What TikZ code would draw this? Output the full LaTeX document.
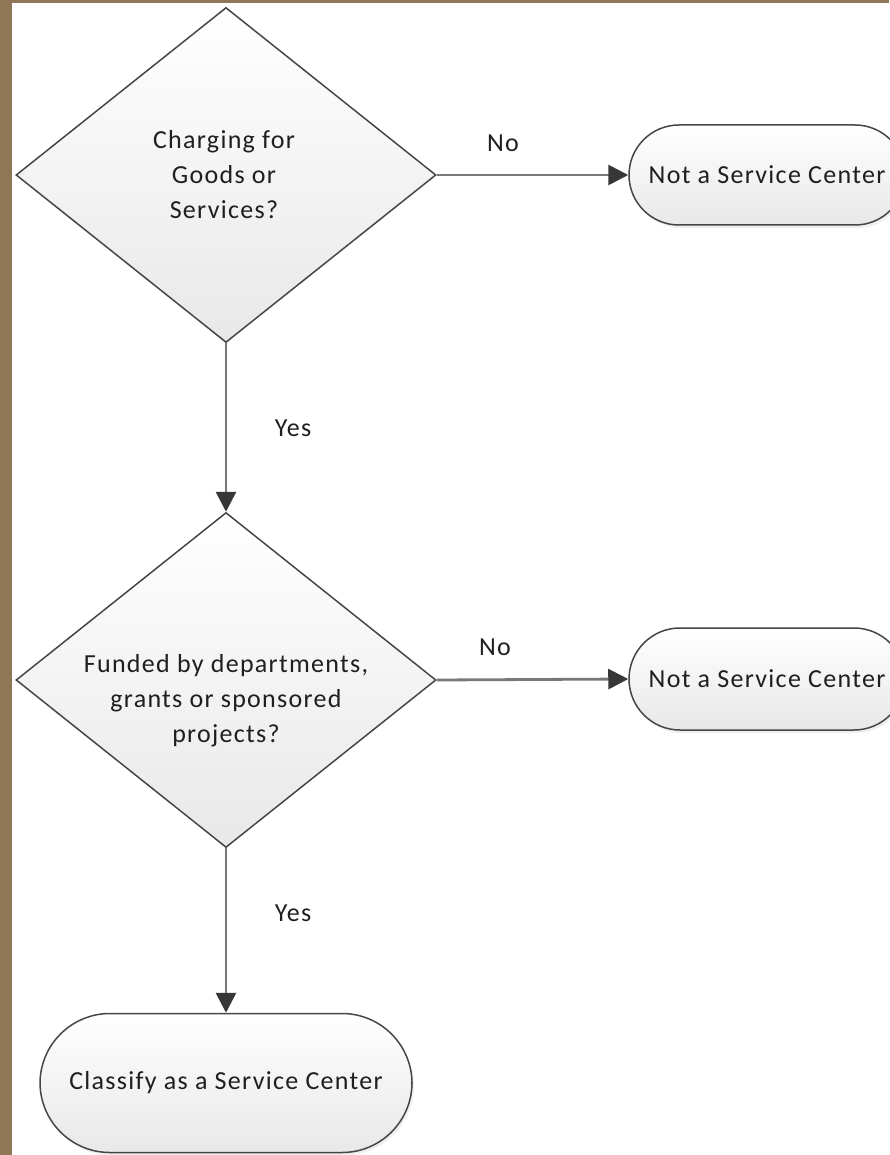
\documentclass[tikz,border=0pt]{standalone}
\usepackage{fontspec}
\setmainfont[LetterSpace=5]{Carlito}
\usetikzlibrary{shapes.geometric,arrows.meta,shadows}
\definecolor{frame}{RGB}{143,118,86}
\definecolor{edge}{RGB}{70,70,70}
\definecolor{conn}{RGB}{120,120,120}
\definecolor{tip}{RGB}{55,55,55}
\tikzset{
  every node/.style={font=\fontsize{26}{35}\selectfont, text=black!88},
  decision/.style={diamond, draw=edge, line width=1.5pt, top color=white, bottom color=black!9,
    minimum width=420pt, minimum height=335pt, inner sep=0pt, align=center},
  terminal/.style={rectangle, rounded corners=#1, draw=edge, line width=1.5pt, top color=white, bottom color=black!9,
    inner sep=0pt, align=center, drop shadow={opacity=0.12, shadow xshift=2pt, shadow yshift=-3pt}},
  conn/.style={draw=conn, line width=2.8pt, -{Triangle[length=20pt,width=20pt,color=tip]}},
  lbl/.style={inner sep=0pt}
}
\begin{document}
\begin{tikzpicture}[x=1pt,y=-1pt]
\useasboundingbox (0,0) rectangle (889,1155);
\fill[frame] (0,0) rectangle (889,1155);
\fill[white] (12,3) rectangle (889,1155);

\node[decision] (d1) at (226,175) {};
\node[lbl, align=center] (d1t) at (224,175) {Charging for\\Goods or\\Services?};
\node[decision] (d2) at (226,680) {};
\node[lbl, align=center] (d2t) at (226,701) {Funded by departments,\\grants or sponsored\\projects?};
\node[terminal=50pt, minimum width=276pt, minimum height=100pt] (t1) at (767,175) {Not a Service Center};
\node[terminal=51pt, minimum width=276pt, minimum height=102pt] (t2) at (767,679) {Not a Service Center};
\node[terminal=70pt, minimum width=372pt, minimum height=139pt] (t3) at (226,1083) {Classify as a Service Center};

\draw[conn] (d1.east) -- (t1.west);
\draw[conn] (d1.south) -- (d2.north);
\draw[conn] (d2.east) -- (t2.west);
\draw[conn] (d2.south) -- (t3.north);

\node[lbl] (n1) at (503,143) {No};
\node[lbl] (y1) at (293,428) {Yes};
\node[lbl] (n2) at (495,647) {No};
\node[lbl] (y2) at (293,913) {Yes};
\end{tikzpicture}
\end{document}
